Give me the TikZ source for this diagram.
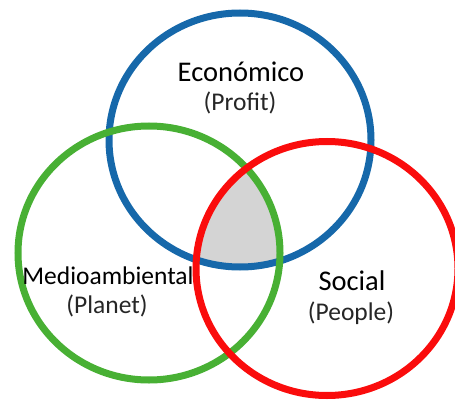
\documentclass[tikz,border=0pt]{standalone}
\usepackage{fontspec}
\setmainfont{Carlito}
\definecolor{econblue}{RGB}{22,104,170}
\definecolor{envgreen}{RGB}{72,176,52}
\definecolor{socred}{RGB}{250,12,12}
\begin{document}
\begin{tikzpicture}[x=1pt,y=-1pt]
  \tikzset{ring/.style={line width=7pt},
           mainlbl/.style={font=\fontsize{28.5}{30}\selectfont, inner sep=0pt},
           sublbl/.style={font=\fontsize{25.5}{27}\selectfont, text=black!85, inner sep=0pt}}
  \useasboundingbox (0,0) rectangle (455,401);

  \coordinate (eco) at (240,140);
  \coordinate (env) at (149,253);
  \coordinate (soc) at (327,268.5);

  % common part of the three
  \begin{scope}
    \clip (eco) ellipse [x radius=131, y radius=127];
    \clip (env) ellipse [x radius=131, y radius=127];
    \fill [black!17] (soc) ellipse [x radius=131, y radius=127];
  \end{scope}

  \draw [ring, econblue] (eco) ellipse [x radius=131, y radius=127];
  \draw [ring, envgreen] (env) ellipse [x radius=131, y radius=127];
  \draw [ring, socred] (soc) ellipse [x radius=131, y radius=127];

  \node [mainlbl] (ecolbl) at (241,72) {Económico};
  \node [sublbl] (ecosub) at (240,103) {(Profit)};
  \node [mainlbl, font=\fontsize{25.5}{27}\selectfont] (envlbl) at (108,276) {Medioambiental};
  \node [sublbl] (envsub) at (107,306) {(Planet)};
  \node [mainlbl] (soclbl) at (352,281) {Social};
  \node [sublbl] (socsub) at (351,313) {(People)};
\end{tikzpicture}
\end{document}
